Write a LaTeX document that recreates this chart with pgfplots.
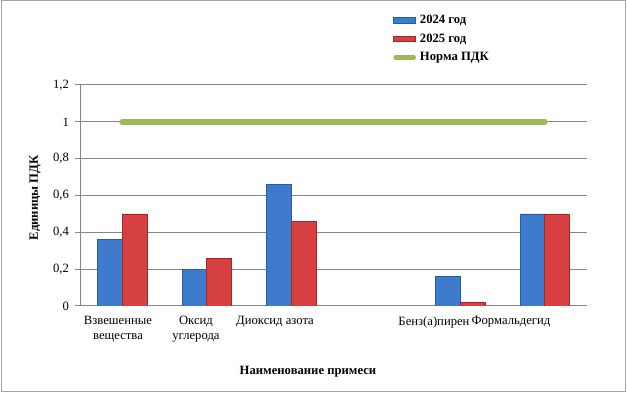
\documentclass[border=0pt]{standalone}
\usepackage{pgfplots}
\pgfplotsset{compat=1.18}
\usepackage{fontspec}
\setmainfont{Liberation Serif}
\definecolor{blueM}{RGB}{62,123,204}
\definecolor{blueD}{RGB}{38,92,168}
\definecolor{redM}{RGB}{214,64,64}
\definecolor{redD}{RGB}{160,40,40}
\definecolor{greenN}{RGB}{155,187,89}
\definecolor{gridG}{RGB}{134,134,134}
\begin{document}
\begin{tikzpicture}[x=0.75pt,y=0.75pt]
\path[use as bounding box] (0,0) rectangle (627,395);
\draw[gray!70, line width=0.75pt] (1,3) rectangle (625.5,394);
\begin{axis}[
  at={(60pt,66.75pt)}, anchor=south west,
  scale only axis, width=380.25pt, height=165.75pt,
  xmin=-0.5, xmax=5.5, ymin=0, ymax=1.2,
  xtick=\empty,
  ytick={0,0.2,0.4,0.6,0.8,1,1.2},
  axis x line*=bottom, axis y line*=left,
  axis line style={gridG, line width=0.75pt, -},
  ymajorgrids, grid style={gridG, line width=0.75pt},
  tick align=outside, major tick length=3.75pt,
  tick style={gridG, line width=0.75pt},
  yticklabel style={font=\fontsize{9.5}{11}\selectfont, xshift=-1pt},
  /pgf/number format/.cd, use comma, fixed, assume math mode=true,
  /pgfplots/.cd,
  ybar, bar width=18.4pt,
  legend style={at={(0.6174,1.33)}, anchor=north west, draw=none, fill=none,
    inner sep=0pt, row sep=2.3pt, column sep=1pt,
    font=\fontsize{9.5}{11}\selectfont\bfseries, cells={anchor=west}},
]
\addplot[bar shift=-9.2pt, draw=blueD, line width=0.4pt, fill=blueM,
  legend image code/.code={\draw[draw=blueD, fill=blueM] (0pt,-2pt) rectangle (16.5pt,2pt);}]
  coordinates {(0,0.36) (1,0.2) (2,0.66) (4,0.16) (5,0.5)};
\addlegendentry{2024 год}
\addplot[bar shift=9.2pt, draw=redD, line width=0.4pt, fill=redM,
  legend image code/.code={\draw[draw=redD, fill=redM] (0pt,-2pt) rectangle (16.5pt,2pt);}]
  coordinates {(0,0.5) (1,0.26) (2,0.46) (4,0.02) (5,0.5)};
\addlegendentry{2025 год}
\addplot[sharp plot, greenN, line width=4.5pt, line cap=round,
  legend image code/.code={\draw[greenN, line width=3.5pt, line cap=round] (1.5pt,0pt) -- (15pt,0pt);}]
  coordinates {(0,1) (5,1)};
\addlegendentry{Норма ПДК}
\end{axis}
\begin{scope}[every node/.style={font=\fontsize{9.5}{11.25}\selectfont, inner sep=0pt, align=center, anchor=north}]
\node at (118,79) {Взвешенные\\вещества};
\node at (196,79) {Оксид\\углерода};
\node at (275,79) {Диоксид азота};
\node at (434,79) {Бенз(а)пирен};
\node at (511,79) {Формальдегид};
\end{scope}
\node[font=\fontsize{9.5}{11}\selectfont\bfseries, inner sep=0pt, anchor=base] at (308,20) {Наименование примеси};
\node[font=\fontsize{9.5}{11}\selectfont\bfseries, inner sep=0pt, rotate=90] at (35,197) {Единицы ПДК};
\end{tikzpicture}
\end{document}
